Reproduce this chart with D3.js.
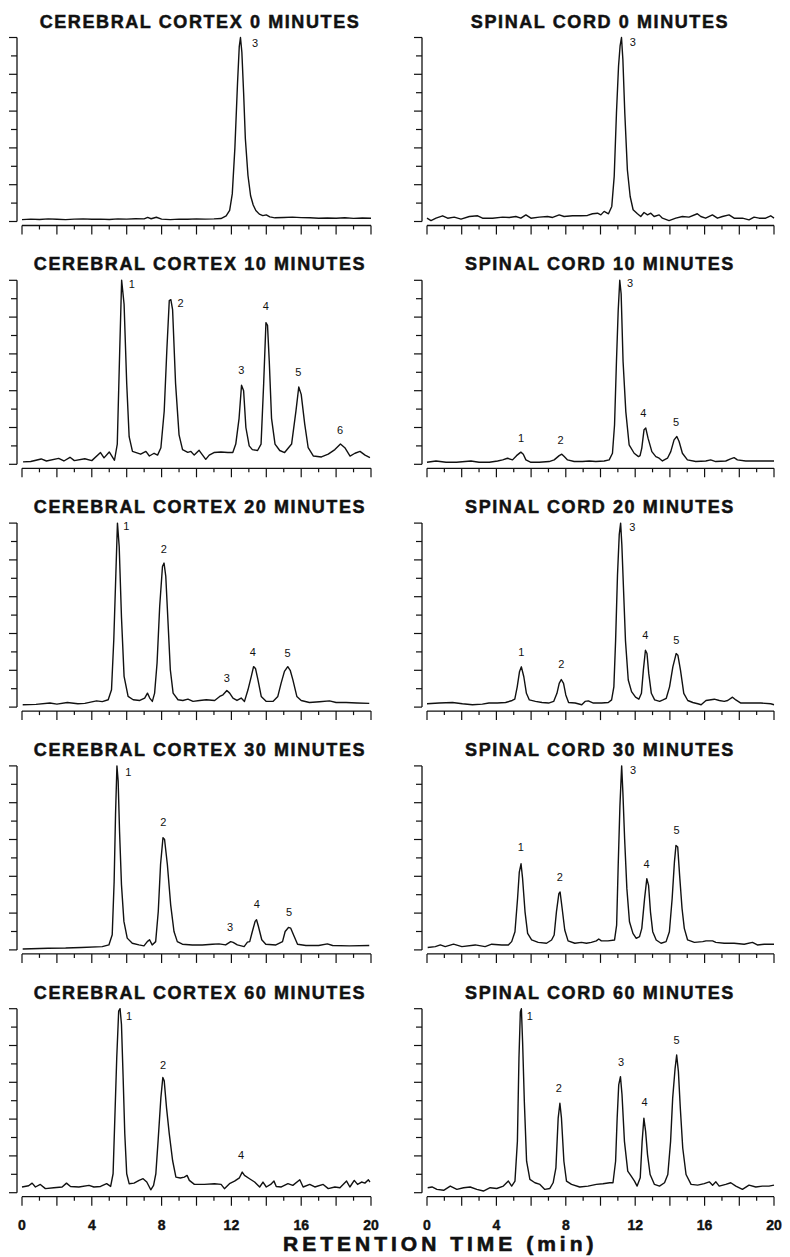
<!DOCTYPE html>
<html><head><meta charset="utf-8">
<script src="https://cdn.jsdelivr.net/npm/d3@7"></script>
<style>body{margin:0;background:#fff} svg{display:block}</style>
</head><body>
<svg id="c" width="790" height="1257"></svg>
<script>
// ---- DATA (retention time in min, detector response in % of full scale) ----
const cortex0 = [[0,1.0],[0.5,1.3],[1,1.1],[1.5,1.4],[2,1.2],[2.5,1.0],[3,1.3],[3.5,1.4],[4,1.2],[4.5,1.3],[5,1.1],[5.5,1.4],[6,1.3],[6.5,1.5],[7,1.4],[7.2,2.2],[7.4,1.5],[7.7,2.3],[8,1.3],[8.5,1.0],[9,1.3],[9.5,1.2],[10,1.4],[10.5,1.3],[11,1.4],[11.4,1.6],[11.7,3],[11.9,6],[12.05,15],[12.2,40],[12.35,75],[12.45,95],[12.52,100],[12.6,92],[12.7,70],[12.8,45],[12.95,25],[13.1,14],[13.25,9],[13.4,6],[13.6,4],[13.8,3.2],[14.0,3.6],[14.2,2.5],[14.5,2.0],[15,2.2],[15.5,2.4],[16,2.1],[16.5,2.0],[17,1.8],[17.5,1.9],[18,1.8],[18.5,2.0],[19,1.7],[19.5,1.9],[20,1.8]];
const cortex10 = [[0.06,1.3],[0.5,1.5],[1.1,2.9],[1.4,1.8],[2.1,3.2],[2.4,1.8],[2.75,3.8],[3.0,2.0],[3.6,3],[4.0,2.0],[4.5,6.4],[4.7,3.5],[5.0,6.7],[5.3,2.2],[5.46,11],[5.6,62],[5.71,100],[5.85,87],[6.0,44],[6.14,15],[6.33,7],[6.8,5.5],[7.1,7],[7.3,4.5],[7.57,6],[7.77,5],[7.96,9],[8.15,29],[8.3,62],[8.44,89],[8.53,89.5],[8.63,84],[8.8,44],[9.0,16],[9.2,8],[9.5,6.5],[9.68,7],[9.87,5],[10.15,7.6],[10.35,5],[10.53,2.7],[10.73,5],[11.0,6.4],[11.4,6.7],[11.8,6.4],[12.08,6.4],[12.25,11],[12.44,25],[12.58,43],[12.7,40],[12.83,20],[13.02,10],[13.2,8],[13.5,7.5],[13.7,11],[13.85,44],[13.98,77],[14.07,75.5],[14.17,56],[14.3,25],[14.5,11],[14.77,7.5],[15.05,6.4],[15.45,11],[15.7,29],[15.86,42],[16.0,38],[16.2,22],[16.4,9],[16.7,4.5],[17.16,4],[17.55,5.5],[17.93,8],[18.25,11],[18.5,9],[18.8,4.5],[19.08,6],[19.37,7],[19.66,5],[19.94,3.6]];
const cortex20 = [[0.04,1.3],[0.8,1.5],[1.6,2.2],[2.0,1.6],[2.6,2.5],[3.2,1.8],[3.6,2.0],[4.27,3.4],[4.6,3.0],[4.94,4],[5.13,9.4],[5.26,36.6],[5.38,72.8],[5.47,100],[5.57,87.3],[5.7,49],[5.85,16.7],[6.08,5.8],[6.37,4],[6.75,3.6],[7.03,4.9],[7.19,7.6],[7.32,4.9],[7.47,3.1],[7.6,7.6],[7.74,24],[7.89,54.7],[8.05,76.4],[8.14,78.3],[8.24,71],[8.37,45.7],[8.5,20.3],[8.66,7.6],[8.94,4],[9.22,3.6],[9.51,4.3],[9.8,3.1],[10.18,3.6],[10.56,4],[11.04,3.6],[11.33,5.8],[11.52,6.7],[11.74,9],[11.9,7.6],[12.09,4.9],[12.32,3.6],[12.56,4.9],[12.75,3.1],[12.95,9.4],[13.14,16.7],[13.27,22],[13.38,21],[13.52,14.9],[13.71,5.8],[14.0,3.1],[14.38,3.1],[14.66,5.8],[14.85,13],[15.04,19.4],[15.23,22],[15.37,20],[15.52,14.9],[15.75,5.8],[16.0,3.6],[16.47,2.5],[17.05,2.9],[17.62,3.4],[18.0,2.5],[18.57,2.5],[19.2,2.2],[19.9,2.0]];
const cortex30 = [[0.04,0.5],[1.5,0.9],[2.5,1.0],[3.4,1.3],[4.6,1.8],[4.98,2.7],[5.17,8.2],[5.28,37],[5.36,73.6],[5.44,100],[5.51,91.8],[5.59,64.5],[5.7,35.5],[5.84,15.5],[6.03,6.4],[6.32,3.6],[6.7,2.7],[6.99,2.2],[7.18,4.5],[7.31,5.5],[7.46,2.7],[7.66,4.5],[7.81,21],[7.94,46.4],[8.08,61],[8.17,60],[8.33,46.4],[8.52,24.5],[8.71,10],[8.9,4.5],[9.19,3.1],[9.76,2.7],[10.33,2.7],[10.91,3.1],[11.29,3.3],[11.67,2.7],[11.96,4.5],[12.1,4.1],[12.34,2.7],[12.73,1.8],[12.92,4.2],[13.05,4.5],[13.2,10],[13.36,15.5],[13.44,16.4],[13.55,12.7],[13.74,5.5],[13.97,3.1],[14.55,2.7],[14.93,4.5],[15.08,10],[15.27,12.2],[15.4,11.8],[15.6,7.3],[15.79,3.1],[16.27,2.4],[17.0,2.4],[17.5,3.3],[17.8,2.4],[18.76,2.2],[19.9,2.4]];
const cortex60 = [[0,3.1],[0.38,3.8],[0.58,5.2],[0.77,3.1],[1.05,4.5],[1.34,2.2],[1.82,2.7],[2.3,3.1],[2.55,5.2],[2.78,3.4],[3.26,3.1],[3.84,4.0],[4.12,3.1],[4.5,3.4],[4.85,4.9],[5.08,3.4],[5.22,10.3],[5.31,37.4],[5.43,73.5],[5.54,98.7],[5.62,100],[5.7,91.5],[5.79,64.4],[5.89,32],[6.0,10.3],[6.14,4.9],[6.42,5.2],[6.71,6.7],[6.94,7.6],[7.15,5.8],[7.38,1.6],[7.54,4],[7.67,10.3],[7.8,28.3],[7.96,51.8],[8.07,62.6],[8.15,60.8],[8.28,46.4],[8.44,32],[8.63,17.5],[8.82,8.5],[9.07,8],[9.3,8.5],[9.46,9.4],[9.59,6.7],[9.88,4.5],[10.45,4.5],[11.03,4.9],[11.41,4.5],[11.6,2.2],[11.89,4.9],[12.18,6.3],[12.46,8.1],[12.62,11.2],[12.75,9.4],[13.04,7.6],[13.33,5.8],[13.62,3.1],[13.81,5.8],[14.0,3.1],[14.25,4.5],[14.44,6.3],[14.57,3.4],[14.86,3.1],[15.24,4.9],[15.52,4.0],[15.92,7],[16.11,3.1],[16.49,4.5],[16.78,3.1],[17.26,4.5],[17.55,2.2],[17.93,3.1],[18.22,2.7],[18.6,6.3],[18.79,3.1],[19.04,6.7],[19.23,4.5],[19.46,5.8],[19.65,5.2],[19.85,7],[19.94,5.8]];
const spinal0 = [[0,1.8],[0.23,0.5],[0.52,1.8],[0.9,3.1],[1.19,1.8],[1.57,2.4],[1.96,1.3],[2.44,2.7],[2.92,3.1],[3.2,1.8],[3.78,1.8],[4.36,2.4],[4.74,2.2],[5.12,2.7],[5.41,1.8],[5.7,3.6],[5.99,1.8],[6.47,2.4],[6.95,2.7],[7.24,2.2],[7.62,3.6],[7.9,2.7],[8.39,3.1],[8.87,3.1],[9.25,3.3],[9.54,4.2],[9.83,4.5],[10.02,3.6],[10.21,5.5],[10.46,4.2],[10.65,8.2],[10.79,24.5],[10.92,59],[11.04,84.5],[11.13,95.5],[11.21,100],[11.29,88],[11.4,59],[11.55,28],[11.71,13.6],[11.88,6.4],[12.13,4.2],[12.32,2.7],[12.51,4.9],[12.71,3.6],[12.9,4.5],[13.09,2.7],[13.38,3.6],[13.57,1.8],[13.95,0.5],[14.34,1.8],[14.72,2.7],[15.1,2.4],[15.58,4.2],[15.78,2.7],[16.06,1.8],[16.45,3.6],[16.74,1.8],[17.03,2.7],[17.41,3.6],[17.7,1.8],[18.18,1.8],[18.56,0.9],[18.85,2.4],[19.14,1.8],[19.52,1.8],[19.81,3.1],[20,1.8]];
const spinal10 = [[0,1.1],[0.52,1.8],[1.1,1.1],[1.7,1.1],[2.53,1.8],[3.0,1.1],[3.59,1.1],[4.07,1.8],[4.36,2.4],[4.64,3.3],[4.93,2.4],[5.16,4.7],[5.41,6.6],[5.55,5.5],[5.7,2.4],[5.99,1.1],[6.47,1.1],[7.04,1.5],[7.33,2.4],[7.62,4.7],[7.77,5.5],[7.91,4.2],[8.1,2.4],[8.48,1.5],[8.96,1.5],[9.35,1.8],[9.73,1.5],[10.21,1.8],[10.5,2.4],[10.69,6],[10.81,21.5],[10.92,56],[11.02,83.6],[11.11,100],[11.19,92.7],[11.3,56],[11.46,28.5],[11.65,10.6],[11.94,6],[12.19,4.2],[12.28,4.7],[12.38,8.8],[12.51,18.8],[12.61,19.7],[12.74,14.2],[12.96,6.9],[13.19,4.2],[13.38,3.3],[13.57,1.8],[13.86,3.3],[14.05,6.9],[14.24,13.3],[14.4,15.1],[14.53,12.4],[14.72,6],[15.01,2.4],[15.49,1.5],[16.07,1.8],[16.35,2.4],[16.64,1.5],[17.22,1.8],[17.5,2.9],[17.7,3.6],[17.89,2.4],[18.37,1.8],[18.94,1.8],[19.52,1.8],[20,1.8]];
const spinal20 = [[0,1.8],[0.7,2.2],[1.47,2.5],[2.04,1.8],[2.62,1.3],[3.19,1.6],[3.57,2.2],[4.05,2.2],[4.53,2.5],[4.91,3.6],[5.06,4.3],[5.2,11],[5.33,19.2],[5.44,21.9],[5.58,16.5],[5.73,7.5],[5.9,3.9],[6.25,3.1],[6.63,2.5],[7.01,2.2],[7.3,3.1],[7.49,7.5],[7.62,12.9],[7.74,15],[7.87,12.9],[8.0,6.6],[8.16,2.5],[8.54,2.2],[8.92,1.3],[9.11,3.1],[9.3,3.4],[9.59,2.2],[10.07,2.2],[10.45,2.5],[10.64,3.9],[10.77,11],[10.87,36],[10.98,72],[11.08,93.7],[11.16,100],[11.23,88.3],[11.33,63.2],[11.44,36],[11.6,14.7],[11.79,8.4],[12.02,5.4],[12.21,4.3],[12.36,7.5],[12.47,20.1],[12.59,30.9],[12.68,29.1],[12.78,18.3],[12.93,7.5],[13.12,3.9],[13.41,3.1],[13.6,3.9],[13.79,4.8],[13.98,11],[14.17,21.9],[14.36,29.1],[14.46,28.2],[14.61,20.1],[14.8,7.5],[15.03,3.6],[15.32,2.5],[15.61,1.8],[15.8,1.3],[16.08,3.6],[16.56,4.3],[16.85,3.6],[17.13,3.1],[17.33,3.6],[17.61,5.4],[17.8,3.9],[18.09,2.2],[18.66,2.2],[19.24,2.2],[19.81,1.8],[20,1.3]];
const spinal30 = [[0.04,1.3],[0.48,1.8],[0.77,2.7],[1.05,1.8],[1.53,3.1],[2.01,1.8],[2.78,2.7],[3.35,1.8],[3.73,3.1],[4.31,2.7],[4.69,2.7],[4.88,4.5],[5.07,9.9],[5.22,27.9],[5.32,42.3],[5.42,46.8],[5.51,38.7],[5.65,20.7],[5.8,9],[6.03,5.4],[6.41,4.1],[6.89,3.6],[7.18,5.4],[7.33,8.1],[7.46,20.7],[7.6,30.6],[7.67,31.5],[7.79,22.5],[7.94,10.8],[8.13,4.9],[8.52,3.6],[8.9,4.1],[9.19,3.6],[9.47,4.1],[9.76,4.9],[9.9,5.9],[10.05,4.9],[10.43,4.9],[10.81,5.4],[10.93,13.5],[11.02,46],[11.12,78.4],[11.22,100],[11.29,85.6],[11.39,60.4],[11.52,33.3],[11.67,15.3],[11.87,9],[12.06,6.3],[12.25,7.2],[12.38,11.7],[12.54,27.9],[12.67,38.7],[12.77,35.1],[12.88,20.7],[13.01,9.9],[13.21,5.4],[13.49,3.6],[13.78,4.5],[13.97,9.9],[14.13,27.9],[14.26,47.7],[14.35,56.8],[14.45,55.9],[14.56,40.5],[14.7,22.5],[14.83,11.7],[15.02,5.4],[15.41,4.1],[15.89,4.5],[16.08,4.9],[16.46,4.9],[16.65,4.1],[17.13,3.6],[17.7,3.6],[18.28,3.1],[18.76,4.1],[19.04,2.7],[19.43,3.1],[20,3.1]];
const spinal60 = [[0.04,2.7],[0.29,3.1],[0.57,1.8],[0.96,1.3],[1.34,3.6],[1.72,1.8],[2.11,2.7],[2.49,3.1],[2.87,1.8],[3.25,0.9],[3.64,2.7],[4.02,2.3],[4.4,3.6],[4.69,6.3],[4.88,3.6],[5.07,6.3],[5.21,27.9],[5.3,72.9],[5.38,98.2],[5.44,100],[5.51,82],[5.61,49.5],[5.74,17.1],[5.93,7.2],[6.22,5.4],[6.51,4.5],[6.79,1.8],[7.08,2.3],[7.27,5.4],[7.43,13.5],[7.56,40.5],[7.66,48.6],[7.75,40.5],[7.89,17.1],[8.04,6.3],[8.33,4.5],[8.8,3.1],[9.28,3.6],[9.76,4.5],[10.14,4.9],[10.53,5.4],[10.72,5.4],[10.87,17.1],[10.96,40.5],[11.05,58.6],[11.15,63.1],[11.24,53.2],[11.38,27.9],[11.57,11.7],[11.77,9],[11.96,6.3],[12.11,3.6],[12.29,8.1],[12.4,27.9],[12.5,40.5],[12.6,33.3],[12.71,20.7],[12.86,9.9],[13.11,4.5],[13.4,3.6],[13.69,5.4],[13.88,9.9],[14.04,27.9],[14.16,51.4],[14.3,67.6],[14.39,74.8],[14.49,65.8],[14.6,46],[14.74,24.3],[14.93,9.9],[15.22,4.5],[15.6,4.1],[15.98,4.9],[16.27,5.9],[16.46,4.1],[16.65,5.9],[16.84,3.6],[17.22,4.5],[17.51,5.4],[17.8,3.6],[18.18,1.8],[18.56,4.1],[18.95,3.1],[19.33,3.6],[19.71,3.6],[20,4.1]];

// peak labels: [label, retention time, response]
const cortex0Labels = [["3",13.35,95]];
const cortex10Labels = [["1",6.3,95.6],["2",9.08,85.4],["3",12.57,49],["4",13.97,83.6],["5",15.84,48],["6",18.23,16.4]];
const cortex20Labels = [["1",5.98,96],["2",8.13,83.5],["3",11.73,13.8],["4",13.22,27.9],["5",15.22,27.3]];
const cortex30Labels = [["1",6.09,94.5],["2",8.1,67.2],["3",11.92,10.4],["4",13.45,22.6],["5",15.3,18.4]];
const cortex60Labels = [["1",6.13,94],["2",8.08,67],["4",12.55,18.4]];
const spinal0Labels = [["3",11.86,95.6]];
const spinal10Labels = [["1",5.42,12],["2",7.7,11],["3",11.7,96.3],["4",12.47,25.7],["5",14.35,20.6]];
const spinal20Labels = [["1",5.44,27.6],["2",7.74,21],["3",11.83,95.5],["4",12.59,36.8],["5",14.37,34.5]];
const spinal30Labels = [["1",5.41,53.5],["2",7.65,37.5],["3",11.88,95.5],["4",12.66,44.5],["5",14.39,63]];
const spinal60Labels = [["1",5.93,93.7],["2",7.6,54.6],["3",11.19,69],["4",12.54,47.2],["5",14.39,81]];

const cortexTitles = ["CEREBRAL CORTEX 0 MINUTES","CEREBRAL CORTEX 10 MINUTES","CEREBRAL CORTEX 20 MINUTES","CEREBRAL CORTEX 30 MINUTES","CEREBRAL CORTEX 60 MINUTES"];
const spinalTitles = ["SPINAL CORD 0 MINUTES","SPINAL CORD 10 MINUTES","SPINAL CORD 20 MINUTES","SPINAL CORD 30 MINUTES","SPINAL CORD 60 MINUTES"];
const xTickLabels = [0,4,8,12,16,20];
const xTicksAll = d3.range(0,21,1);
const yTicksAll = d3.range(0,101,10);
const xAxisTitle = "RETENTION TIME (min)";

const cortexData = [cortex0,cortex10,cortex20,cortex30,cortex60];
const spinalData = [spinal0,spinal10,spinal20,spinal30,spinal60];
const cortexLabels = [cortex0Labels,cortex10Labels,cortex20Labels,cortex30Labels,cortex60Labels];
const spinalLabels = [spinal0Labels,spinal10Labels,spinal20Labels,spinal30Labels,spinal60Labels];

// ---- LAYOUT ----
const svg = d3.select("#c");
const cols = [
  {yAxisX:17, x0:22, x1:371, titleX:200, titles:cortexTitles, data:cortexData, labels:cortexLabels},
  {yAxisX:422, x0:427, x1:774, titleX:600, titles:spinalTitles, data:spinalData, labels:spinalLabels}
];
const rowTop0 = 37.5, rowPitch = 242.8, plotH = 184;
const ink = "#111";
const fontMain = "'Liberation Sans', Arial, Helvetica, sans-serif";

cols.forEach((col, ci) => {
  const x = d3.scaleLinear().domain([0,20]).range([col.x0, col.x1]);
  for (let r = 0; r < 5; r++) {
    const top = rowTop0 + r*rowPitch;
    const bottom = top + plotH;
    const y = d3.scaleLinear().domain([0,100]).range([bottom, top]);
    const g = svg.append("g");

    // title
    g.append("text").attr("x", col.titleX).attr("y", top - 10)
      .attr("text-anchor","middle")
      .attr("font-family", fontMain).attr("font-weight","bold")
      .attr("font-size", 18).attr("letter-spacing","1.6px")
      .attr("fill", ink).attr("stroke", ink).attr("stroke-width", 0.5)
      .text(col.titles[r]);

    // y axis (ticks pointing left)
    const yAxis = g.append("g");
    yAxis.append("line").attr("x1", col.yAxisX).attr("x2", col.yAxisX)
      .attr("y1", y(0)).attr("y2", y(100)).attr("stroke", ink).attr("stroke-width", 1.3);
    yAxis.selectAll("line.t").data(yTicksAll).join("line").attr("class","t")
      .attr("x1", d => col.yAxisX - ((d % 20 === 0) ? 8 : 6)).attr("x2", col.yAxisX)
      .attr("y1", d => y(d)).attr("y2", d => y(d))
      .attr("stroke", ink).attr("stroke-width", 1.2);

    // x axis (separate line below the plot, ticks hanging down)
    const axY = bottom + 4;
    const xAxis = g.append("g");
    xAxis.append("line").attr("x1", x(0)).attr("x2", x(20))
      .attr("y1", axY).attr("y2", axY).attr("stroke", ink).attr("stroke-width", 1.3);
    xAxis.selectAll("line.t").data(xTicksAll).join("line").attr("class","t")
      .attr("x1", d => x(d)).attr("x2", d => x(d))
      .attr("y1", axY).attr("y2", d => axY + ((d % 2 === 0) ? 9 : 4))
      .attr("stroke", ink).attr("stroke-width", 1.2);

    // trace
    const line = d3.line().x(d => x(d[0])).y(d => y(d[1]));
    g.append("path").datum(col.data[r]).attr("d", line)
      .attr("fill","none").attr("stroke", ink).attr("stroke-width", 1.4)
      .attr("stroke-linejoin","round");

    // peak labels
    g.selectAll("text.pk").data(col.labels[r]).join("text").attr("class","pk")
      .attr("x", d => x(d[1])).attr("y", d => y(d[2]))
      .attr("text-anchor","middle")
      .attr("font-family", fontMain).attr("font-size", 11).attr("fill", ink)
      .text(d => d[0]);

    // bottom tick labels
    if (r === 4) {
      g.selectAll("text.xl").data(xTickLabels).join("text").attr("class","xl")
        .attr("x", d => x(d)).attr("y", 1230)
        .attr("text-anchor","middle")
        .attr("font-family", fontMain).attr("font-weight","bold").attr("font-size", 14)
        .attr("fill", ink).attr("stroke", ink).attr("stroke-width", 0.4)
        .text(d => d);
    }
  }
});

svg.append("text").attr("x", 283).attr("y", 1251)
  .attr("font-family", fontMain).attr("font-weight","bold").attr("font-size", 21)
  .attr("letter-spacing","4px")
  .attr("fill", ink).attr("stroke", ink).attr("stroke-width", 0.6)
  .text(xAxisTitle);
</script>
</body></html>
